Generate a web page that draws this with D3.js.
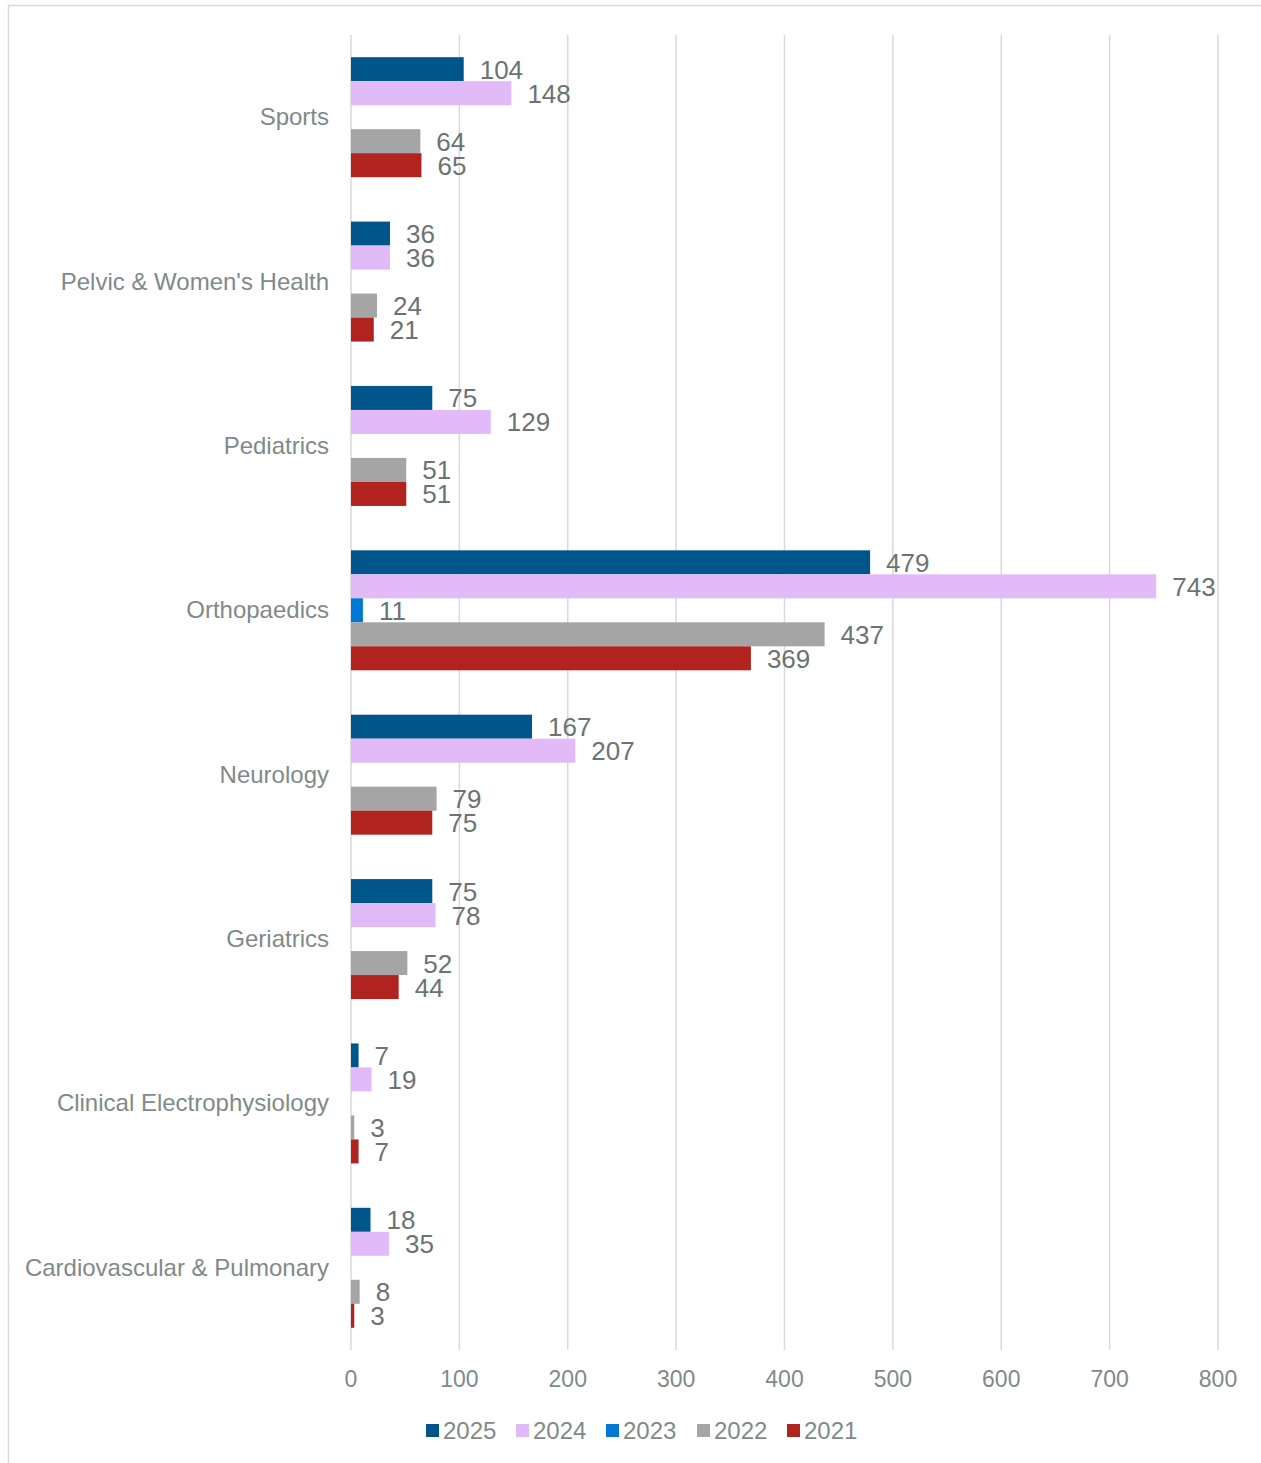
<!DOCTYPE html>
<html>
<head>
<meta charset="utf-8">
<script src="https://cdn.jsdelivr.net/npm/d3@7"></script>
<style>
  html, body { margin: 0; padding: 0; background: #fff; }
  svg { display: block; font-family: "Liberation Sans", Arial, sans-serif; }
</style>
</head>
<body>
<svg id="chart" width="1261" height="1463"></svg>
<script>
const categories = ["Sports", "Pelvic & Women's Health", "Pediatrics", "Orthopaedics", "Neurology", "Geriatrics", "Clinical Electrophysiology", "Cardiovascular & Pulmonary"];
const seriesNames = ["2025", "2024", "2023", "2022", "2021"];
const values2025 = [104, 36, 75, 479, 167, 75, 7, 18];
const values2024 = [148, 36, 129, 743, 207, 78, 19, 35];
const values2023 = [null, null, null, 11, null, null, null, null];
const values2022 = [64, 24, 51, 437, 79, 52, 3, 8];
const values2021 = [65, 21, 51, 369, 75, 44, 7, 3];
const seriesColors = ["#00558A", "#E3BAF8", "#0078D4", "#A5A5A5", "#B0231F"];
const xTicks = [0, 100, 200, 300, 400, 500, 600, 700, 800];

const seriesValues = [values2025, values2024, values2023, values2022, values2021];

const svg = d3.select("#chart");

// outer frame
svg.append("rect").attr("x", 8.5).attr("y", 5.5).attr("width", 1262).attr("height", 1470)
  .attr("fill", "none").attr("stroke", "#D9D9D9").attr("stroke-width", 1.5);

const x = d3.scaleLinear().domain([0, 800]).range([351, 1218]);
const y = d3.scaleBand().domain(categories).range([35, 1350]).padding(0);
const yInner = d3.scaleBand().domain(seriesNames).range([0, y.bandwidth()]).paddingInner(0).paddingOuter(0.925);

// gridlines
svg.append("g").selectAll("line").data(xTicks).join("line")
  .attr("x1", d => x(d)).attr("x2", d => x(d))
  .attr("y1", 35).attr("y2", 1350)
  .attr("stroke", "#D9D9D9").attr("stroke-width", 1.5);

// x tick labels
svg.append("g").selectAll("text").data(xTicks).join("text")
  .attr("x", d => x(d)).attr("y", 1387)
  .attr("text-anchor", "middle")
  .attr("font-size", 23).attr("fill", "#7F8A8A")
  .text(d => d);

// category labels
svg.append("g").selectAll("text").data(categories).join("text")
  .attr("x", 329).attr("y", d => y(d) + y.bandwidth() / 2 + 8)
  .attr("text-anchor", "end")
  .attr("font-size", 24).attr("fill", "#7F8A8A")
  .text(d => d);

// bars
const rows = [];
categories.forEach((c, ci) => {
  seriesNames.forEach((s, si) => {
    const v = seriesValues[si][ci];
    if (v !== null && v !== undefined) rows.push({ c, s, v, color: seriesColors[si] });
  });
});

const g = svg.append("g");
g.selectAll("rect").data(rows).join("rect")
  .attr("x", x(0))
  .attr("y", d => y(d.c) + yInner(d.s))
  .attr("width", d => x(d.v) - x(0))
  .attr("height", yInner.bandwidth())
  .attr("fill", d => d.color);

g.selectAll("text").data(rows).join("text")
  .attr("x", d => x(d.v) + 16)
  .attr("y", d => y(d.c) + yInner(d.s) + yInner.bandwidth() / 2 + 9.5)
  .attr("font-size", 26).attr("fill", "#6B7373")
  .text(d => d.v);

// legend
const legendX = [426, 516, 606, 697, 787];
const lg = svg.append("g");
seriesNames.forEach((s, i) => {
  lg.append("rect").attr("x", legendX[i]).attr("y", 1424).attr("width", 13).attr("height", 13).attr("fill", seriesColors[i]);
  lg.append("text").attr("x", legendX[i] + 17).attr("y", 1439)
    .attr("font-size", 24).attr("fill", "#7F8A8A").text(s);
});
</script>
</body>
</html>
